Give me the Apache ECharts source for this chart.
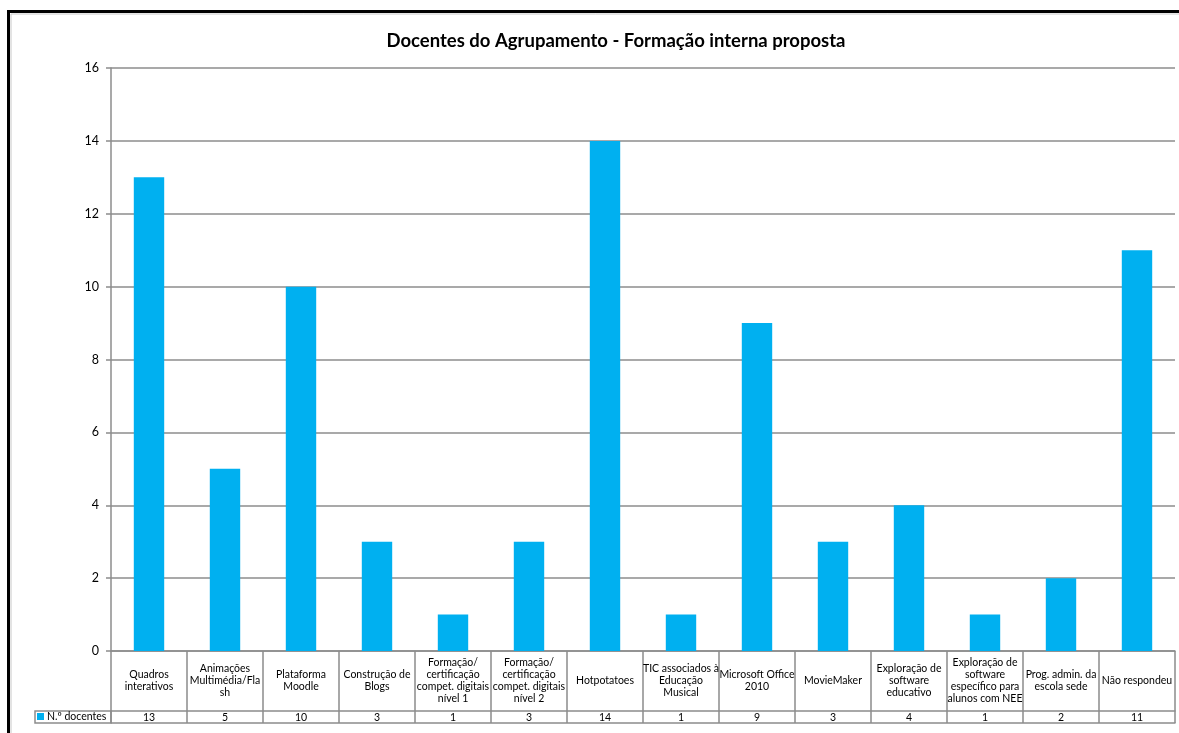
<!DOCTYPE html>
<html>
<head>
<meta charset="utf-8">
<script src="https://cdn.jsdelivr.net/npm/echarts@6/dist/echarts.min.js"></script>
<style>
html,body{margin:0;padding:0;background:#fff;}
#chart{width:1179px;height:733px;}
</style>
</head>
<body>
<div id="chart"></div>
<script>
const title = 'Docentes do Agrupamento - Formação interna proposta';
const seriesName = 'N.º docentes';
const categories = [
  'Quadros\ninterativos',
  'Animações\nMultimédia/Fla\nsh',
  'Plataforma\nMoodle',
  'Construção de\nBlogs',
  'Formação/\ncertificação\ncompet. digitais\nnível 1',
  'Formação/\ncertificação\ncompet. digitais\nnível 2',
  'Hotpotatoes',
  'TIC associados à\nEducação\nMusical',
  'Microsoft Office\n2010',
  'MovieMaker',
  'Exploração de\nsoftware\neducativo',
  'Exploração de\nsoftware\nespecífico para\nalunos com NEE',
  'Prog. admin. da\nescola sede',
  'Não respondeu'
];
const values = [13, 5, 10, 3, 1, 3, 14, 1, 9, 3, 4, 1, 2, 11];
const yTicks = [0, 2, 4, 6, 8, 10, 12, 14, 16];

const FONT = 'Lato, "Noto Sans", sans-serif';
const GRID_COLOR = '#8c8c8c';
const BAR_COLOR = '#00B0F0';

const chart = echarts.init(document.getElementById('chart'));
const option = {
  animation: false,
  backgroundColor: '#fff',
  textStyle: { fontFamily: FONT },
  title: {
    text: title,
    left: 611, textAlign: 'center',
    top: 27,
    textStyle: { fontFamily: FONT, fontSize: 18.5, fontWeight: 'bold', color: '#000' }
  },
  legend: {
    data: [seriesName],
    left: 37, top: 711,
    itemWidth: 7, itemHeight: 7, itemGap: 4,
    icon: 'rect',
    padding: 0,
    textStyle: { fontFamily: FONT, fontSize: 10.5, color: '#000', padding: [1, 0, 0, -2] }
  },
  grid: { left: 111, right: 4, top: 68, bottom: 82, containLabel: false },
  xAxis: [
    {
      type: 'category', data: categories, position: 'bottom',
      axisLine: { show: true, lineStyle: { color: GRID_COLOR, width: 1.5 } },
      axisTick: { show: true, length: 72, lineStyle: { color: GRID_COLOR, width: 1.5 } },
      axisLabel: {
        interval: 0, margin: 30, verticalAlign: 'middle',
        fontFamily: FONT, fontSize: 10.5, lineHeight: 12, color: '#000'
      }
    },
    {
      type: 'category', data: categories, position: 'bottom', offset: 60,
      axisLine: { show: true, lineStyle: { color: GRID_COLOR, width: 1.5 } },
      axisTick: { show: false },
      axisLabel: {
        interval: 0, margin: 1, fontFamily: FONT, fontSize: 10.5, color: '#000',
        formatter: (v, i) => String(values[i])
      }
    },
    {
      type: 'category', data: categories, position: 'bottom', offset: 72,
      axisLine: { show: true, lineStyle: { color: GRID_COLOR, width: 1.5 } },
      axisTick: { show: false },
      axisLabel: { show: false }
    }
  ],
  yAxis: {
    type: 'value', min: 0, max: 16, interval: 2,
    axisLine: { show: true, lineStyle: { color: GRID_COLOR, width: 1.5 } },
    axisTick: { show: true, length: 5, lineStyle: { color: GRID_COLOR, width: 1.5 } },
    axisLabel: {
      margin: 12, fontFamily: FONT, fontSize: 12.5, color: '#000',
      formatter: v => yTicks.includes(v) ? String(v) : ''
    },
    splitLine: { show: true, lineStyle: { color: GRID_COLOR, width: 1.5 } }
  },
  series: [{
    name: seriesName, type: 'bar', data: values,
    barWidth: '40%',
    itemStyle: { color: BAR_COLOR }
  }],
  graphic: [
    { type: 'rect', shape: { x: 8.5, y: 11.5, width: 1300, height: 900 },
      style: { fill: 'none', stroke: '#000', lineWidth: 3 }, silent: true },
    { type: 'rect', shape: { x: 11, y: 14, width: 1300, height: 900 },
      style: { fill: 'none', stroke: '#c8c8c8', lineWidth: 1 }, silent: true },
    { type: 'rect', shape: { x: 35, y: 711, width: 76, height: 12 },
      style: { fill: 'none', stroke: GRID_COLOR, lineWidth: 1.5 }, silent: true, z: 0 }
  ]
};
chart.setOption(option);
</script>
</body>
</html>
